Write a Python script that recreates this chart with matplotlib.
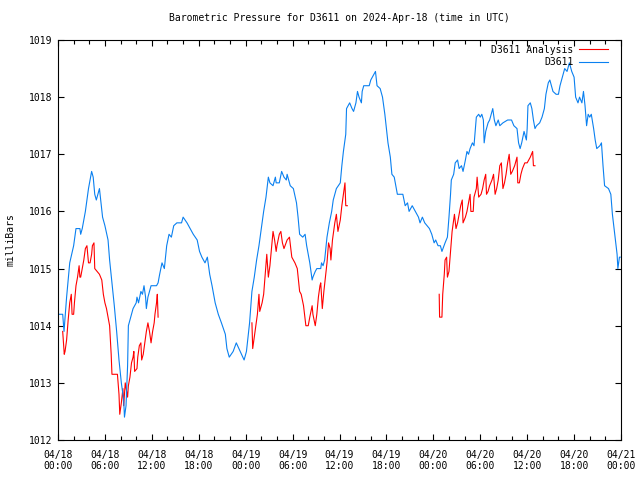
import numpy as np
import pandas as pd
import matplotlib
matplotlib.use('Agg')
import matplotlib.pyplot as plt
import matplotlib.dates as mdates

# D3611 관측 (시간: 2024-04-18 00:00 UTC 기준 경과 시간)
obs_hours = [0.0, 0.6, 0.77, 1.1, 1.5, 2.0, 2.3, 2.8, 2.9, 3.1, 3.5, 3.9, 4.3, 4.5, 4.7, 4.9, 5.2, 5.3, 5.5, 5.7,
             6.0, 6.4, 6.6, 6.9, 7.2, 7.5, 7.8, 8.1, 8.4, 8.5, 8.7, 8.9, 9.0, 9.3, 9.6, 10.0, 10.1, 10.3, 10.6, 10.8,
             11.0, 11.2, 11.3, 11.5, 11.9, 12.6, 12.8, 13.0, 13.3, 13.6, 13.9, 14.2, 14.5, 14.8, 15.2, 15.8, 16.0, 16.5, 16.9, 17.3,
             17.8, 18.1, 18.4, 18.8, 19.1, 19.4, 19.7, 20.1, 20.5, 20.9, 21.4, 21.6, 21.9, 22.4, 22.8, 23.3, 23.8, 24.1, 24.5, 24.8,
             25.1, 25.4, 25.7, 26.0, 26.3, 26.6, 26.9, 27.1, 27.5, 27.8, 27.9, 28.3, 28.6, 28.9, 29.2, 29.3, 29.7, 30.1, 30.5, 30.7,
             30.9, 31.3, 31.6, 31.8, 32.0, 32.2, 32.5, 32.6, 32.9, 33.1, 33.6, 33.7, 33.9, 34.1, 34.4, 34.7, 35.0, 35.2, 35.6, 36.1,
             36.3, 36.5, 36.8, 36.9, 37.3, 37.6, 37.8, 38.1, 38.3, 38.5, 38.8, 38.9, 39.1, 39.8, 40.0, 40.4, 40.6, 40.8, 41.2, 41.5,
             41.8, 42.0, 42.2, 42.5, 42.7, 43.0, 43.2, 43.4, 44.1, 44.4, 44.7, 44.9, 45.3, 45.7, 46.1, 46.3, 46.6, 46.9, 47.2, 47.5,
             47.8, 48.1, 48.3, 48.6, 48.9, 49.1, 49.5, 49.8, 50.0, 50.2, 50.3, 50.6, 50.8, 51.1, 51.3, 51.6, 51.8, 52.1, 52.3, 52.5,
             52.7, 53.0, 53.2, 53.5, 53.8, 54.0, 54.2, 54.4, 54.5, 54.7, 55.0, 55.2, 55.6, 55.8, 56.0, 56.3, 56.5, 56.9, 57.5, 58.0,
             58.3, 58.7, 58.9, 59.1, 59.3, 59.6, 59.9, 60.0, 60.1, 60.4, 60.6, 60.8, 61.0, 61.2, 61.6, 61.9, 62.2, 62.4, 62.7, 62.9,
             63.1, 63.3, 63.7, 64.0, 64.2, 64.5, 64.8, 65.1, 65.4, 65.7, 66.0, 66.2, 66.5, 66.7, 67.0, 67.2, 67.4, 67.6, 67.8, 68.0,
             68.2, 68.5, 68.7, 68.9, 69.3, 69.5, 69.7, 69.9, 70.4, 70.7, 70.9, 71.2, 71.5, 71.6, 71.8, 71.9]
obs_mb = [1014.2, 1014.2, 1013.9, 1014.5, 1015.1, 1015.4, 1015.7, 1015.7, 1015.6, 1015.7, 1016.0, 1016.4, 1016.7, 1016.6, 1016.3, 1016.2, 1016.35, 1016.4, 1016.15, 1015.9,
          1015.75, 1015.5, 1015.15, 1014.75, 1014.35, 1013.9, 1013.4, 1013.0, 1012.7, 1012.4, 1012.6, 1013.3, 1014.0, 1014.15, 1014.3, 1014.4, 1014.5, 1014.4, 1014.6, 1014.55,
          1014.7, 1014.5, 1014.3, 1014.5, 1014.7, 1014.7, 1014.75, 1014.9, 1015.1, 1015.0, 1015.4, 1015.6, 1015.55, 1015.75, 1015.8, 1015.8, 1015.9, 1015.8, 1015.7, 1015.6,
          1015.5, 1015.3, 1015.2, 1015.1, 1015.2, 1014.9, 1014.7, 1014.4, 1014.2, 1014.05, 1013.85, 1013.6, 1013.45, 1013.55, 1013.7, 1013.55, 1013.4, 1013.55, 1014.05, 1014.6,
          1014.85, 1015.15, 1015.4, 1015.7, 1016.0, 1016.25, 1016.6, 1016.5, 1016.45, 1016.6, 1016.5, 1016.5, 1016.7, 1016.6, 1016.55, 1016.65, 1016.45, 1016.4, 1016.15, 1015.9,
          1015.6, 1015.55, 1015.6, 1015.4, 1015.25, 1015.1, 1014.8, 1014.85, 1014.95, 1015.0, 1015.0, 1015.1, 1015.05, 1015.15, 1015.55, 1015.8, 1016.0, 1016.2, 1016.4, 1016.5,
          1016.8, 1017.05, 1017.35, 1017.8, 1017.9, 1017.8, 1017.75, 1017.9, 1018.1, 1018.0, 1017.9, 1018.1, 1018.2, 1018.2, 1018.3, 1018.4, 1018.45, 1018.2, 1018.15, 1018.0,
          1017.7, 1017.45, 1017.2, 1016.95, 1016.65, 1016.6, 1016.45, 1016.3, 1016.3, 1016.1, 1016.15, 1016.0, 1016.1, 1016.0, 1015.9, 1015.8, 1015.9, 1015.8, 1015.75, 1015.7,
          1015.6, 1015.45, 1015.5, 1015.4, 1015.4, 1015.3, 1015.45, 1015.55, 1015.9, 1016.3, 1016.55, 1016.65, 1016.85, 1016.9, 1016.75, 1016.8, 1016.7, 1016.9, 1017.05, 1017.0,
          1017.1, 1017.2, 1017.15, 1017.65, 1017.7, 1017.65, 1017.7, 1017.6, 1017.2, 1017.4, 1017.55, 1017.6, 1017.8, 1017.6, 1017.5, 1017.6, 1017.5, 1017.55, 1017.6, 1017.6,
          1017.5, 1017.45, 1017.2, 1017.1, 1017.2, 1017.4, 1017.25, 1017.45, 1017.85, 1017.9, 1017.8, 1017.6, 1017.45, 1017.5, 1017.55, 1017.65, 1017.8, 1018.05, 1018.25, 1018.3,
          1018.2, 1018.1, 1018.05, 1018.05, 1018.2, 1018.35, 1018.5, 1018.45, 1018.6, 1018.45, 1018.35, 1018.0, 1017.9, 1018.0, 1017.9, 1018.1, 1017.85, 1017.5, 1017.7, 1017.65,
          1017.7, 1017.45, 1017.25, 1017.1, 1017.15, 1017.2, 1016.8, 1016.45, 1016.4, 1016.3, 1015.95, 1015.6, 1015.25, 1015.0, 1015.2, 1015.2]

# D3611 Analysis (NaN = 자료 없음 구간)
ana_hours = [0.6, 0.8, 0.9, 1.1, 1.3, 1.5, 1.7, 1.8, 2.0, 2.1, 2.3, 2.5, 2.7, 2.8, 2.9, 3.1, 3.3, 3.5, 3.7, 3.9,
             4.1, 4.3, 4.4, 4.6, 4.7, 5.0, 5.3, 5.6, 5.8, 6.0, 6.2, 6.4, 6.6, 6.8, 6.9, 7.6, 7.8, 7.9, 8.1, 8.3,
             8.4, 8.6, 8.9, 9.0, 9.2, 9.4, 9.6, 9.7, 9.8, 10.1, 10.2, 10.4, 10.6, 10.7, 10.9, 11.1, 11.3, 11.5, 11.7, 11.9,
             12.1, 12.3, 12.4, 12.6, 12.7, 12.8, 18.0,
             24.8, 24.9, 25.1, 25.3, 25.5, 25.7, 25.8, 26.1, 26.3, 26.5, 26.7, 26.9, 27.1, 27.3, 27.5, 27.7, 27.9, 28.0, 28.3, 28.5,
             28.7, 28.9, 29.3, 29.6, 29.9, 30.3, 30.6, 30.9, 31.1, 31.4, 31.7, 32.0, 32.2, 32.5, 32.6, 32.9, 33.1, 33.3, 33.5, 33.6,
             33.8, 34.0, 34.2, 34.4, 34.6, 34.8, 34.9, 35.1, 35.4, 35.6, 35.8, 36.1, 36.3, 36.5, 36.7, 36.8, 37.0, 42.0,
             48.75, 48.8, 49.1, 49.2, 49.4, 49.5, 49.7, 49.8, 50.0, 50.2, 50.4, 50.6, 50.7, 50.9, 51.1, 51.3, 51.5, 51.7, 51.8, 52.1,
             52.3, 52.5, 52.7, 52.8, 53.1, 53.2, 53.5, 53.6, 53.8, 54.1, 54.3, 54.5, 54.7, 54.8, 55.0, 55.2, 55.5, 55.7, 55.9, 56.1,
             56.3, 56.5, 56.7, 56.9, 57.1, 57.3, 57.5, 57.7, 57.9, 58.1, 58.4, 58.7, 58.8, 59.0, 59.2, 59.4, 59.7, 60.0, 60.4, 60.7,
             60.8, 61.0]
ana_mb = [1013.9, 1013.5, 1013.55, 1013.75, 1014.1, 1014.4, 1014.55, 1014.2, 1014.2, 1014.4, 1014.7, 1014.85, 1015.05, 1014.85, 1014.85, 1015.0, 1015.15, 1015.35, 1015.4, 1015.1,
          1015.1, 1015.25, 1015.4, 1015.45, 1015.0, 1014.95, 1014.9, 1014.8, 1014.55, 1014.4, 1014.3, 1014.15, 1014.0, 1013.5, 1013.15, 1013.15, 1012.8, 1012.45, 1012.65, 1012.9,
          1012.6, 1013.0, 1012.75, 1012.95, 1013.1, 1013.35, 1013.45, 1013.55, 1013.2, 1013.25, 1013.45, 1013.65, 1013.7, 1013.4, 1013.5, 1013.7, 1013.9, 1014.05, 1013.9, 1013.7,
          1013.9, 1014.05, 1014.2, 1014.4, 1014.55, 1014.15, np.nan,
          1014.05, 1013.6, 1013.8, 1014.0, 1014.2, 1014.55, 1014.25, 1014.4, 1014.55, 1014.9, 1015.25, 1014.85, 1015.05, 1015.35, 1015.65, 1015.5, 1015.3, 1015.4, 1015.6, 1015.65,
          1015.45, 1015.35, 1015.5, 1015.55, 1015.2, 1015.1, 1015.0, 1014.6, 1014.55, 1014.35, 1014.0, 1014.0, 1014.15, 1014.35, 1014.2, 1014.0, 1014.2, 1014.5, 1014.7, 1014.75,
          1014.3, 1014.6, 1014.85, 1015.1, 1015.45, 1015.35, 1015.15, 1015.5, 1015.8, 1015.95, 1015.65, 1015.85, 1016.1, 1016.3, 1016.5, 1016.1, 1016.1, np.nan,
          1014.55, 1014.15, 1014.15, 1014.55, 1014.9, 1015.15, 1015.2, 1014.85, 1014.95, 1015.3, 1015.65, 1015.85, 1015.95, 1015.7, 1015.8, 1015.95, 1016.1, 1016.2, 1015.8, 1015.9,
          1016.0, 1016.15, 1016.3, 1016.0, 1016.0, 1016.25, 1016.4, 1016.6, 1016.25, 1016.3, 1016.4, 1016.55, 1016.65, 1016.3, 1016.35, 1016.45, 1016.55, 1016.65, 1016.3, 1016.4,
          1016.55, 1016.8, 1016.85, 1016.4, 1016.5, 1016.65, 1016.85, 1017.0, 1016.65, 1016.7, 1016.8, 1016.95, 1016.5, 1016.5, 1016.65, 1016.75, 1016.85, 1016.85, 1016.95, 1017.05,
          1016.8, 1016.8]

start = pd.Timestamp('2024-04-18 00:00')
obs_t = start + pd.to_timedelta(obs_hours, unit='h')
ana_t = start + pd.to_timedelta(ana_hours, unit='h')

plt.rcParams['font.family'] = 'DejaVu Sans Mono'
plt.rcParams['font.size'] = 7.0

fig = plt.figure(figsize=(6.4, 4.8), dpi=100)
ax = fig.add_axes([58/640, 40/480, 563/640, 400/480])

ax.plot(ana_t, ana_mb, color='#ff0000', lw=0.8, label='D3611 Analysis')
ax.plot(obs_t, obs_mb, color='#0a80f0', lw=0.8, label='D3611')

ax.set_xlim(start, start + pd.Timedelta(hours=72))
ax.set_ylim(1012, 1019)
ax.set_yticks(range(1012, 1020))

ax.xaxis.set_major_locator(mdates.HourLocator(byhour=[0, 6, 12, 18]))
ax.xaxis.set_minor_locator(mdates.HourLocator(interval=2))
ax.xaxis.set_major_formatter(mdates.DateFormatter('%m/%d\n%H:%M'))

ax.tick_params(which='both', direction='in', top=True, right=True, width=0.8)
ax.tick_params(which='major', length=4.5)
ax.tick_params(which='minor', length=3)
ax.tick_params(axis='x', which='major', pad=7)
ax.tick_params(axis='y', pad=4)
for s in ax.spines.values():
    s.set_linewidth(0.8)

ax.set_ylabel('milliBars', labelpad=10)
ax.set_title('Barometric Pressure for D3611 on 2024-Apr-18 (time in UTC)', fontsize=7.0, pad=14)

ax.legend(loc='upper right', bbox_to_anchor=(0.995, 1.013), frameon=False, markerfirst=False,
          handlelength=3.0, borderaxespad=0.6, labelspacing=0.3, handletextpad=0.6)

fig.savefig('out.png', dpi=100)
